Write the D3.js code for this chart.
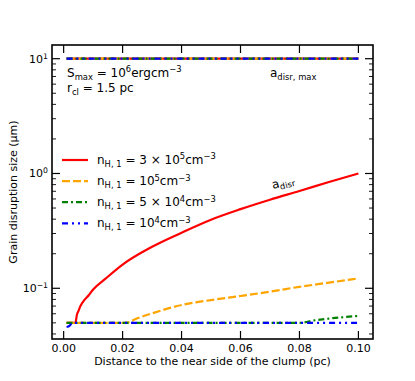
<!DOCTYPE html>
<html>
<head>
<meta charset="utf-8">
<script src="https://cdn.jsdelivr.net/npm/d3@7"></script>
<style>
  body { margin: 0; background: #fff; }
  svg { font-family: "DejaVu Sans", sans-serif; }
</style>
</head>
<body>
<div id="canvas"></div>
<script>
// data
const xTicks = [0, 0.02, 0.04, 0.06, 0.08, 0.10];
const xTickLabels = ["0.00", "0.02", "0.04", "0.06", "0.08", "0.10"];
const yTicks = [0.1, 1, 10];
const yTickExp = ["−1", "0", "1"];

const aMaxX = [0.001, 0.1];
const aMaxY = [10, 10];

const redX = [0.001, 0.004, 0.0045, 0.005, 0.0056, 0.007, 0.0085, 0.0101, 0.014, 0.02, 0.03, 0.04, 0.05, 0.06, 0.07, 0.08, 0.09, 0.1];
const redY = [0.05, 0.05, 0.0589, 0.0632, 0.0692, 0.0788, 0.0871, 0.0982, 0.12, 0.161, 0.23, 0.305, 0.396, 0.489, 0.591, 0.704, 0.843, 1.0];

const orangeX = [0.001, 0.021, 0.025, 0.03, 0.04, 0.05, 0.06, 0.07, 0.08, 0.09, 0.1];
const orangeY = [0.05, 0.05, 0.0548, 0.0605, 0.0715, 0.079, 0.0857, 0.0934, 0.103, 0.112, 0.122];

const greenX = [0.001, 0.08, 0.085, 0.09, 0.095, 0.1];
const greenY = [0.05, 0.05, 0.0525, 0.0545, 0.056, 0.0575];

const blueX = [0.001, 0.002, 0.003, 0.1];
const blueY = [0.046, 0.047, 0.05, 0.05];

const series = [
  { name: "red", color: "#ff0000", dash: null, xs: redX, ys: redY,
    label: [["n", ""], ["H, 1", "sub"], [" = 3 × 10", ""], ["5", "sup"], ["cm", ""], ["−3", "sup"]] },
  { name: "orange", color: "#ffa500", dash: "8,3", xs: orangeX, ys: orangeY,
    label: [["n", ""], ["H, 1", "sub"], [" = 10", ""], ["5", "sup"], ["cm", ""], ["−3", "sup"]] },
  { name: "green", color: "#008000", dash: "6,3,2,3", xs: greenX, ys: greenY,
    label: [["n", ""], ["H, 1", "sub"], [" = 5 × 10", ""], ["4", "sup"], ["cm", ""], ["−3", "sup"]] },
  { name: "blue", color: "#0000ff", dash: "6,4,2,4,2,4", xs: blueX, ys: blueY,
    label: [["n", ""], ["H, 1", "sub"], [" = 10", ""], ["4", "sup"], ["cm", ""], ["−3", "sup"]] }
];

const W = 415, H = 381;
const margin = { left: 52, right: 42, top: 45, bottom: 42 };

const svg = d3.select("#canvas").append("svg")
  .attr("width", W).attr("height", H);

const x = d3.scaleLinear().domain([-0.00395, 0.10495]).range([margin.left, W - margin.right]);
const y = d3.scaleLog().domain([0.03616, 13.16]).range([H - margin.bottom, margin.top]);

// mathtext-ish helper
const mathText = (sel, parts, size) => {
  const t = sel.attr("font-size", size);
  let shift = 0;
  parts.forEach(([s, mode]) => {
    let target = 0;
    if (mode === "sub") target = size * 0.22;
    if (mode === "sup") target = -size * 0.38;
    t.append("tspan")
      .attr("dy", target - shift)
      .attr("font-size", mode ? size * 0.7 : size)
      .text(s);
    shift = target;
  });
  return t;
};

const plot = svg.append("g");
const clipId = "clip";
svg.append("clipPath").attr("id", clipId).append("rect")
  .attr("x", margin.left).attr("y", margin.top)
  .attr("width", W - margin.left - margin.right)
  .attr("height", H - margin.bottom - margin.top);

const line = d3.line().x(d => x(d[0])).y(d => y(d[1])).curve(d3.curveMonotoneX);

// flat a_disr,max lines, drawn first for every series
series.forEach(s => {
  plot.append("path")
    .datum(d3.zip(aMaxX, aMaxY))
    .attr("d", line)
    .attr("fill", "none")
    .attr("stroke", s.color)
    .attr("stroke-width", 2.2)
    .attr("stroke-dasharray", s.dash);
});

series.forEach(s => {
  plot.append("path")
    .datum(d3.zip(s.xs, s.ys))
    .attr("d", line)
    .attr("clip-path", `url(#${clipId})`)
    .attr("fill", "none")
    .attr("stroke", s.color)
    .attr("stroke-width", 2.2)
    .attr("stroke-dasharray", s.dash);
});

// frame
const x0 = margin.left, x1 = W - margin.right, y0 = margin.top, y1 = H - margin.bottom;
svg.append("rect").attr("x", x0).attr("y", y0)
  .attr("width", x1 - x0).attr("height", y1 - y0)
  .attr("fill", "none").attr("stroke", "#000").attr("stroke-width", 1.6);

// x ticks (inward, bottom + top)
const tickG = svg.append("g").attr("stroke", "#000").attr("stroke-width", 1.2);
xTicks.forEach(v => {
  tickG.append("line").attr("x1", x(v)).attr("x2", x(v)).attr("y1", y1).attr("y2", y1 - 8);
  tickG.append("line").attr("x1", x(v)).attr("x2", x(v)).attr("y1", y0).attr("y2", y0 + 8);
});
svg.append("g").selectAll("text").data(xTicks).join("text")
  .attr("x", d => x(d)).attr("y", y1 + 13)
  .attr("text-anchor", "middle").attr("font-size", 11)
  .text((d, i) => xTickLabels[i]);

// y ticks: major + minor on both sides
const minor = [];
[0.01, 0.1, 1, 10].forEach(dec => {
  for (let k = 2; k <= 9; k++) {
    const v = dec * k;
    if (v > y.domain()[0] && v < y.domain()[1]) minor.push(v);
  }
});
yTicks.forEach(v => {
  tickG.append("line").attr("x1", x0).attr("x2", x0 + 8).attr("y1", y(v)).attr("y2", y(v));
  tickG.append("line").attr("x1", x1).attr("x2", x1 - 8).attr("y1", y(v)).attr("y2", y(v));
});
minor.forEach(v => {
  tickG.append("line").attr("x1", x0).attr("x2", x0 + 4).attr("y1", y(v)).attr("y2", y(v)).attr("stroke-width", 0.9);
  tickG.append("line").attr("x1", x1).attr("x2", x1 - 4).attr("y1", y(v)).attr("y2", y(v)).attr("stroke-width", 0.9);
});
yTicks.forEach((v, i) => {
  svg.append("text")
    .attr("x", x0 - 4).attr("y", y(v) + 4)
    .attr("text-anchor", "end")
    .call(t => mathText(t, [["10", ""], [yTickExp[i], "sup"]], 11));
});

// axis labels
svg.append("text")
  .attr("x", (x0 + x1) / 2).attr("y", y1 + 26)
  .attr("text-anchor", "middle").attr("font-size", 11)
  .text("Distance to the near side of the clump (pc)");
svg.append("text")
  .attr("transform", `translate(17, ${(y0 + y1) / 2}) rotate(-90)`)
  .attr("text-anchor", "middle").attr("font-size", 11)
  .text("Grain disruption size (μm)");

// annotations
svg.append("text").attr("x", 67).attr("y", 77)
  .call(t => mathText(t, [["S", ""], ["max", "sub"], [" = 10", ""], ["6", "sup"], ["ergcm", ""], ["−3", "sup"]], 12));
svg.append("text").attr("x", 67).attr("y", 92)
  .call(t => mathText(t, [["r", ""], ["cl", "sub"], [" = 1.5 pc", ""]], 12));
svg.append("text").attr("x", 270).attr("y", 77)
  .call(t => mathText(t, [["a", ""], ["disr, max", "sub"]], 12));
svg.append("text")
  .attr("transform", "translate(273, 189) rotate(-15)")
  .call(t => mathText(t, [["a", ""], ["disr", "sub"]], 12));

// legend
const legend = svg.append("g");
series.forEach((s, i) => {
  const cy = 160 + i * 21.1;
  legend.append("line")
    .attr("x1", 62).attr("x2", 88).attr("y1", cy).attr("y2", cy)
    .attr("stroke", s.color).attr("stroke-width", 2.2)
    .attr("stroke-dasharray", s.dash);
  legend.append("text").attr("x", 97).attr("y", cy + 4)
    .call(t => mathText(t, s.label, 12));
});
</script>
</body>
</html>
